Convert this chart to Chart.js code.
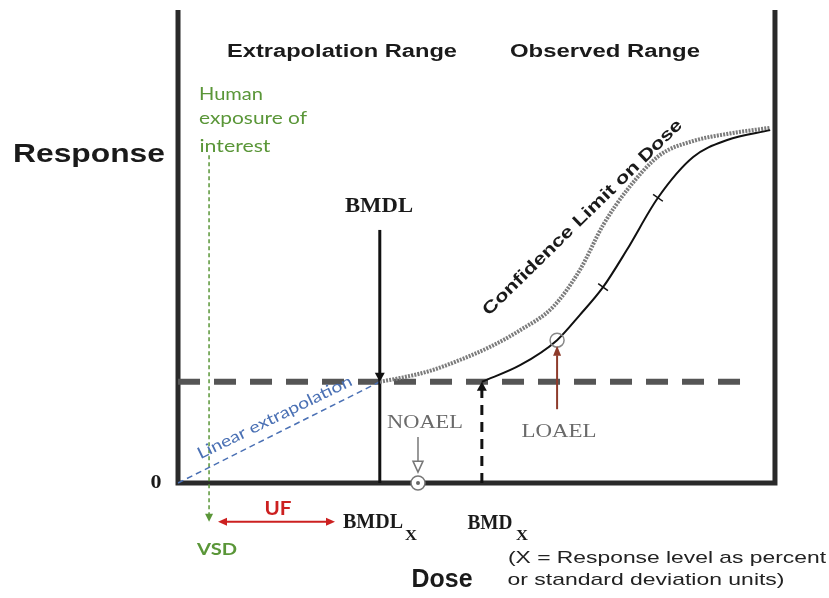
<!DOCTYPE html>
<html>
<head>
<meta charset="utf-8">
<script src="https://cdn.jsdelivr.net/npm/chart.js@4.4.1/dist/chart.umd.min.js"></script>
<style>
  html, body { margin: 0; padding: 0; background: #fff; }
  #wrap { width: 829px; height: 598px; }
</style>
</head>
<body>
<div id="wrap"><canvas id="myChart" width="829" height="598"></canvas></div>
<script>
// Dose-response curve (dose and response in % of the plotted range)
const curveDose = [50.9, 57.3, 63.5, 67.3, 71.2, 75.2, 80.4, 86.3, 92.0, 99.2];
const curveResp = [21.4, 24.9, 30.2, 35.5, 41.4, 49.3, 60.3, 68.9, 72.5, 74.6];

// Lower confidence limit on dose (dotted grey curve)
const limitDose = [33.8, 37.2, 42.2, 47.2, 52.3, 57.3, 62.8, 67.3, 71.2, 75.2, 80.7, 86.3, 92.0, 99.2];
const limitResp = [21.4, 22.2, 23.7, 26.0, 28.8, 32.3, 37.2, 45.0, 54.5, 61.9, 69.3, 72.3, 73.8, 75.1];

// Reference doses and levels
const bmrLevel = 21.4;        // benchmark response
const bmrEnd = 96.1;          // where the dashed BMR line stops
const bmdl = 33.8;
const bmdlTop = 53.5;
const bmd = 50.9;
const noael = 40.2;
const loael = [63.5, 30.2];
const loaelArrow = [15.6, 29.0];  // response range of LOAEL arrow
const noaelArrow = [9.7, 2.3];
const vsd = 5.2;
const vsdTop = 69.3;
const ufLevel = -8.2;
const ufRange = [6.7, 26.3];
const tickDoses = [71.2, 80.4];

// Scale bounds: 0..100 maps onto the plotting box
const xMin = -29.82, xMax = 109.05;
const yMin = -24.31, yMax = 102.11;

const green = '#5a9638';
const red = '#cc2020';
const blue = '#4a70b4';
const brown = '#8e3b2b';

const zip = (xs, ys) => xs.map((v, i) => ({ x: v, y: ys[i] }));

function lineSet(data, color, width, dash, extra) {
  return Object.assign({
    data: data,
    borderColor: color,
    borderWidth: width,
    borderDash: dash || [],
    pointRadius: 0,
    fill: false,
    tension: 0
  }, extra || {});
}

// text labels (pixel positions, centre/baseline, target width)
const labels = [
  { text: 'Extrapolation Range', x: 342, y: 57, w: 230, font: 'bold 18px "Liberation Sans"', color: '#1a1a1a' },
  { text: 'Observed Range', x: 605, y: 57, w: 190, font: 'bold 18px "Liberation Sans"', color: '#1a1a1a' },
  { text: 'Response', x: 89, y: 162, w: 152, font: 'bold 26px "Liberation Sans"', color: '#1a1a1a' },
  { text: 'Human', x: 231, y: 100, w: 64, font: '17px Lato', color: green },
  { text: 'exposure of', x: 253, y: 124, w: 108, font: '17px Lato', color: green },
  { text: 'interest', x: 235, y: 152, w: 71, font: '17px Lato', color: green },
  { text: 'BMDL', x: 379, y: 212, w: 68, font: 'bold 21px "Liberation Serif"', color: '#1a1a1a' },
  { text: '0', x: 156, y: 488, w: 11, font: 'bold 18px "Liberation Serif"', color: '#1a1a1a' },
  { text: 'UF', x: 278, y: 515, w: 27, font: 'bold 18px Lato', color: red },
  { text: 'BMDL', x: 373, y: 528, w: 60, font: 'bold 20px "Liberation Serif"', color: '#1a1a1a' },
  { text: 'X', x: 411, y: 540, w: 12, font: 'bold 15px "Liberation Serif"', color: '#1a1a1a' },
  { text: 'BMD', x: 490, y: 529, w: 45, font: 'bold 20px "Liberation Serif"', color: '#1a1a1a' },
  { text: 'X', x: 522, y: 540, w: 12, font: 'bold 15px "Liberation Serif"', color: '#1a1a1a' },
  { text: 'VSD', x: 217, y: 555, w: 40, font: 'bold 17px Lato', color: green },
  { text: 'NOAEL', x: 425, y: 428, w: 76, font: '19px "Liberation Serif"', color: '#6a6a6a' },
  { text: 'LOAEL', x: 559, y: 437, w: 75, font: '19px "Liberation Serif"', color: '#6a6a6a' },
  { text: 'Dose', x: 442, y: 587, w: 61, font: 'bold 26px "Liberation Sans"', color: '#1a1a1a' },
  { text: '(X = Response level as percent', x: 667, y: 563, w: 318, font: '17px "Liberation Sans"', color: '#222' },
  { text: 'or standard deviation units)', x: 646, y: 585, w: 277, font: '17px "Liberation Sans"', color: '#222' },
  { text: 'Confidence Limit on Dose', x: 586, y: 221, w: 272, font: 'bold 17px "Liberation Sans"', color: '#1a1a1a', angle: -44.4 },
  { text: 'Linear extrapolation', x: 277, y: 422, w: 170, font: '16px Lato', color: blue, angle: -26 }
];

const arrowHeads = [
  { x: bmdl, y: bmrLevel, dir: 'down', color: '#111', len: 9, half: 5 },
  { x: bmd, y: bmrLevel, dir: 'up', color: '#111', len: 9, half: 5 },
  { x: vsd, y: ufLevel, dir: 'down', color: green, len: 8, half: 4 },
  { x: ufRange[0], y: ufLevel, dir: 'left', color: red, len: 9, half: 4 },
  { x: ufRange[1], y: ufLevel, dir: 'right', color: red, len: 9, half: 4 },
  { x: loael[0], y: loaelArrow[1], dir: 'up', color: brown, len: 10, half: 4 }
];

function drawHead(ctx, px, py, dir, len, half, color) {
  const a = { up: -Math.PI / 2, down: Math.PI / 2, left: Math.PI, right: 0 }[dir];
  ctx.save();
  ctx.translate(px, py);
  ctx.rotate(a);
  ctx.beginPath();
  ctx.moveTo(0, 0);
  ctx.lineTo(-len, -half);
  ctx.lineTo(-len, half);
  ctx.closePath();
  ctx.fillStyle = color;
  ctx.fill();
  ctx.restore();
}

const annotations = {
  id: 'annotations',
  afterDatasetsDraw(chart) {
    const { ctx, scales: { x, y } } = chart;

    arrowHeads.forEach(h => drawHead(ctx, x.getPixelForValue(h.x), y.getPixelForValue(h.y), h.dir, h.len, h.half, h.color));

    // hollow NOAEL arrow
    const nx = x.getPixelForValue(noael);
    const ny0 = y.getPixelForValue(noaelArrow[0]);
    const ny1 = y.getPixelForValue(noaelArrow[1]);
    ctx.save();
    ctx.strokeStyle = '#777';
    ctx.lineWidth = 1.5;
    ctx.beginPath();
    ctx.moveTo(nx, ny0);
    ctx.lineTo(nx, ny1 - 11);
    ctx.stroke();
    ctx.beginPath();
    ctx.moveTo(nx - 5, ny1 - 11);
    ctx.lineTo(nx + 5, ny1 - 11);
    ctx.lineTo(nx, ny1);
    ctx.closePath();
    ctx.fillStyle = '#fff';
    ctx.fill();
    ctx.stroke();
    // dot inside NOAEL circle
    ctx.beginPath();
    ctx.arc(nx, y.getPixelForValue(0), 2, 0, Math.PI * 2);
    ctx.fillStyle = '#666';
    ctx.fill();
    ctx.restore();

    // ticks across the dose-response curve
    ctx.save();
    ctx.strokeStyle = '#111';
    ctx.lineWidth = 1.5;
    tickDoses.forEach(d => {
      const i = curveDose.indexOf(d);
      const px = x.getPixelForValue(d), py = y.getPixelForValue(curveResp[i]);
      const dx = x.getPixelForValue(curveDose[i + 1]) - x.getPixelForValue(curveDose[i - 1]);
      const dy = y.getPixelForValue(curveResp[i + 1]) - y.getPixelForValue(curveResp[i - 1]);
      const l = Math.hypot(dx, dy);
      const nxv = -dy / l * 6, nyv = dx / l * 6;
      ctx.beginPath();
      ctx.moveTo(px - nxv, py - nyv);
      ctx.lineTo(px + nxv, py + nyv);
      ctx.stroke();
    });
    ctx.restore();

    // text
    labels.forEach(l => {
      ctx.save();
      ctx.font = l.font;
      ctx.fillStyle = l.color;
      ctx.textAlign = 'center';
      ctx.textBaseline = 'alphabetic';
      ctx.translate(l.x, l.y);
      if (l.angle) ctx.rotate(l.angle * Math.PI / 180);
      const w = ctx.measureText(l.text).width;
      ctx.scale(l.w / w, 1);
      ctx.fillText(l.text, 0, 0);
      ctx.restore();
    });
  }
};

const ctx = document.getElementById('myChart').getContext('2d');
new Chart(ctx, {
  type: 'line',
  data: {
    datasets: [
      // markers
      { data: [{ x: noael, y: 0 }], showLine: false, pointRadius: 7, pointBorderWidth: 1.5,
        pointBackgroundColor: '#fff', pointBorderColor: '#777', order: 0 },
      { data: [{ x: loael[0], y: loael[1] }], showLine: false, pointRadius: 7, pointBorderWidth: 1.5,
        pointBackgroundColor: 'rgba(0,0,0,0)', pointBorderColor: '#888', order: 0 },
      lineSet(zip(curveDose, curveResp), '#111', 2, null, { cubicInterpolationMode: 'monotone', order: 1 }),
      lineSet(zip(limitDose, limitResp), '#7c7c7c', 4, [2, 1.2], { cubicInterpolationMode: 'monotone', order: 2 }),
      lineSet([{ x: loael[0], y: loaelArrow[0] }, { x: loael[0], y: loaelArrow[1] - 2 }], brown, 2, null, { order: 2 }),
      lineSet([{ x: bmdl, y: 0 }, { x: bmdl, y: bmdlTop }], '#111', 3, null, { order: 3 }),
      lineSet([{ x: bmd, y: 0 }, { x: bmd, y: bmrLevel - 1.5 }], '#111', 3, [10, 7], { order: 3 }),
      lineSet([{ x: 0, y: 0 }, { x: bmdl, y: bmrLevel }], blue, 1.5, [6, 4], { order: 3 }),
      lineSet([{ x: vsd, y: vsdTop }, { x: vsd, y: ufLevel + 1 }], green, 1.5, [4, 3], { order: 3 }),
      lineSet([{ x: ufRange[0] + 1, y: ufLevel }, { x: ufRange[1] - 1, y: ufLevel }], red, 2, null, { order: 3 }),
      lineSet([{ x: 0, y: bmrLevel }, { x: bmrEnd, y: bmrLevel }], '#555', 6, [22, 14], { order: 4 }),
      // frame of the plot
      lineSet([{ x: 0, y: 100 }, { x: 0, y: 0 }, { x: 100, y: 0 }, { x: 100, y: 100 }], '#2a2a2a', 5, null,
        { order: 5, borderJoinStyle: 'miter' })
    ]
  },
  options: {
    responsive: false,
    animation: false,
    layout: { padding: 0, autoPadding: false },
    scales: {
      x: { type: 'linear', display: false, min: xMin, max: xMax },
      y: { type: 'linear', display: false, min: yMin, max: yMax }
    },
    plugins: {
      legend: { display: false },
      tooltip: { enabled: false }
    }
  },
  plugins: [annotations]
});
</script>
</body>
</html>
